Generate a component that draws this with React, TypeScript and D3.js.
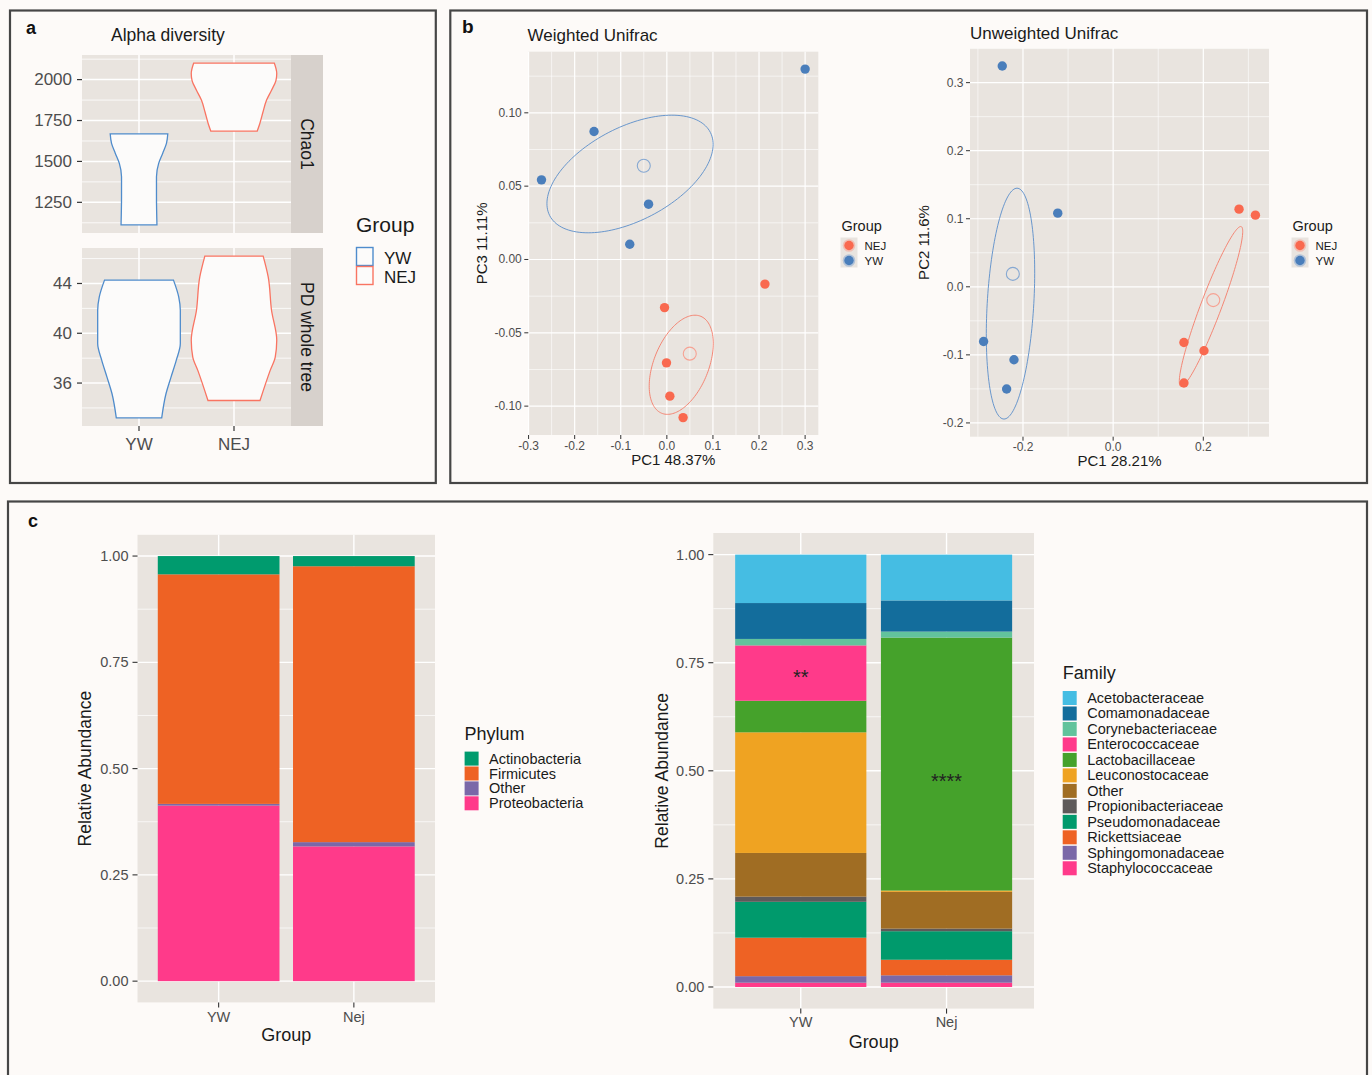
import React from 'react'
import * as d3 from 'd3'

const FONT = "'Liberation Sans', Arial, Helvetica, sans-serif"
const PAGE_BG = '#fdfaf8'
const PANEL_BG = '#e9e4df'
const STRIP_BG = '#d7d1cc'
const FRAME = '#464646'
const TICK_TEXT = '#4d4d4d'
const TICK_LINE = '#333333'
const TEXT = '#1a1a1a'

// ---------- a: alpha diversity ----------
const alphaGroups = ['YW', 'NEJ']
const chao1Ticks = [1250, 1500, 1750, 2000]
const pdTicks = [36, 40, 44]
// violin outlines: [value, half width as a share of the category step]
const chao1YW = [[1668, 0.303], [1610, 0.289], [1549, 0.249], [1488, 0.207], [1406, 0.184], [1284, 0.184], [1112, 0.189]]
const chao1NEJ = [[2101, 0.424], [2037, 0.45], [1996, 0.442], [1935, 0.395], [1874, 0.342], [1802, 0.305], [1732, 0.272], [1685, 0.244]]
const pdYW = [[44.27, 0.363], [42.92, 0.418], [41.85, 0.435], [39.17, 0.435], [37.82, 0.392], [36.48, 0.337], [35.14, 0.284], [33.2, 0.239]]
const pdNEJ = [[46.2, 0.307], [44.53, 0.36], [41.85, 0.395], [39.43, 0.45], [38.09, 0.434], [37.02, 0.381], [34.6, 0.274]]

// ---------- b: PCoA ----------
const pcoaGroups = ['NEJ', 'YW']
const weightedYW = [[0.3, 0.1298], [-0.158, 0.0873], [-0.272, 0.0543], [-0.0397, 0.0377], [-0.0805, 0.0104]]
const weightedNEJ = [[0.2128, -0.0168], [-0.005, -0.0328], [-0.0008, -0.0705], [0.0065, -0.0932], [0.0352, -0.1078]]
const unweightedYW = [[-0.246, 0.3245], [-0.1229, 0.1082], [-0.2874, -0.0803], [-0.22, -0.1072], [-0.2363, -0.1502]]
const unweightedNEJ = [[0.2793, 0.1141], [0.3156, 0.1053], [0.157, -0.0818], [0.2015, -0.094], [0.157, -0.1414]]
// ellipses: [cx, cy, ax, ay, bx, by]  (centre + two conjugate semi-axes)
const weightedEllYW = [-0.0799, 0.0583, 0.0907, 0.0401, 0.1558, 0]
const weightedEllNEJ = [0.0312, -0.0718, 0.0299, 0.0338, 0.0627, 0]
const unweightedEllYW = [-0.2277, -0.0247, 0.01444, 0.1696, 0.0517, 0]
const unweightedEllNEJ = [0.2171, -0.0289, 0.0659, 0.1175, 0.0246, 0]
const weightedXTicks = [-0.3, -0.2, -0.1, 0, 0.1, 0.2, 0.3]
const weightedYTicks = [-0.1, -0.05, 0, 0.05, 0.1]
const unweightedXTicks = [-0.2, 0, 0.2]
const unweightedYTicks = [-0.2, -0.1, 0, 0.1, 0.2, 0.3]

// ---------- c: relative abundance ----------
const barGroups = ['YW', 'Nej']
const abundanceTicks = [0, 0.25, 0.5, 0.75, 1]
const phyla = ['Actinobacteria', 'Firmicutes', 'Other', 'Proteobacteria']
const phylumYW = [0.043, 0.54, 0.004, 0.413]
const phylumNej = [0.024, 0.649, 0.01, 0.317]
const phylumColors = ['#009b6e', '#ee6224', '#7b68a8', '#ff3a8a']
const families = [
  'Acetobacteraceae', 'Comamonadaceae', 'Corynebacteriaceae', 'Enterococcaceae',
  'Lactobacillaceae', 'Leuconostocaceae', 'Other', 'Propionibacteriaceae',
  'Pseudomonadaceae', 'Rickettsiaceae', 'Sphingomonadaceae', 'Staphylococcaceae',
]
const familyYW = [0.112, 0.083, 0.015, 0.128, 0.073, 0.279, 0.101, 0.012, 0.083, 0.089, 0.015, 0.01]
const familyNej = [0.106, 0.072, 0.014, 0.0, 0.585, 0.003, 0.085, 0.006, 0.066, 0.036, 0.017, 0.01]
const familyColors = [
  '#45bde3', '#136d9c', '#62c39c', '#ff3a8a', '#45a22b', '#efa322',
  '#a06d23', '#5e5a5a', '#009a6c', '#ee6224', '#7b68a8', '#ff3a8a',
]
const familyStars = [['YW', 0.727, '**'], ['Nej', 0.487, '****']]

const groupColors: Record<string, string> = { YW: '#4a7ebb', NEJ: '#f9694f' }
const ringColors: Record<string, string> = { YW: '#86a8d2', NEJ: '#f6a293' }
const ellColors: Record<string, string> = { YW: '#5a8dca', NEJ: '#f47c69' }
const violinColors: Record<string, string> = { YW: '#4f8ccc', NEJ: '#f97462' }

const fmtMinus = (f: (n: number) => string) => (v: number) => f(v).replace('\u2212', '-')

function expand(ext: number[], m = 0.05) {
  const r = ext[1] - ext[0]
  return [ext[0] - r * m, ext[1] + r * m]
}

function minorOf(ticks: number[], domain: number[]) {
  const step = ticks[1] - ticks[0]
  const out: number[] = []
  for (let i = -1; i < ticks.length; i++) {
    const v = ticks[0] + (i + 0.5) * step
    if (v >= domain[0] && v <= domain[1]) out.push(v)
  }
  return out
}

function AlphaPanel() {
  const x = d3.scalePoint<string>().domain(alphaGroups).range([82, 291]).padding(0.6)
  const step = x.step()
  const facets = [
    { name: 'Chao1', top: 55, bottom: 233, ticks: chao1Ticks, data: { YW: chao1YW, NEJ: chao1NEJ } },
    { name: 'PD whole tree', top: 248, bottom: 426, ticks: pdTicks, data: { YW: pdYW, NEJ: pdNEJ } },
  ]
  return (
    <g>
      <text x={26} y={34} fontSize={18} fontWeight="bold" fill="#111">a</text>
      <text x={111} y={41} fontSize={17.5} fill={TEXT}>Alpha diversity</text>
      {facets.map((f) => {
        const vals = [...f.data.YW, ...f.data.NEJ].map((d) => d[0])
        const dom = expand(d3.extent(vals) as number[])
        const y = d3.scaleLinear().domain(dom).range([f.bottom, f.top])
        const minor = minorOf(f.ticks, dom)
        return (
          <g key={f.name}>
            <rect x={82} y={f.top} width={209} height={f.bottom - f.top} fill={PANEL_BG} />
            {minor.map((v) => (
              <line key={'m' + v} x1={82} x2={291} y1={y(v)} y2={y(v)} stroke="#fff" strokeWidth={0.8} />
            ))}
            {f.ticks.map((v) => (
              <line key={'M' + v} x1={82} x2={291} y1={y(v)} y2={y(v)} stroke="#fff" strokeWidth={1.5} />
            ))}
            {alphaGroups.map((g) => (
              <line key={g} x1={x(g)} x2={x(g)} y1={f.top} y2={f.bottom} stroke="#fff" strokeWidth={1.5} />
            ))}
            {alphaGroups.map((g) => {
              const cx = x(g) as number
              const area = d3
                .area<number[]>()
                .y((d) => y(d[0]))
                .x0((d) => cx - d[1] * step)
                .x1((d) => cx + d[1] * step)
                .curve(d3.curveMonotoneY)
              return (
                <path
                  key={g}
                  d={area((f.data as any)[g]) || ''}
                  fill="#fcfbfa"
                  stroke={violinColors[g]}
                  strokeWidth={1.3}
                />
              )
            })}
            {f.ticks.map((v) => (
              <g key={'t' + v}>
                <line x1={77} x2={82} y1={y(v)} y2={y(v)} stroke={TICK_LINE} strokeWidth={1.2} />
                <text x={72} y={y(v)} dominantBaseline="central" textAnchor="end" fontSize={17} fill={TICK_TEXT}>
                  {v}
                </text>
              </g>
            ))}
            <rect x={291} y={f.top} width={32} height={f.bottom - f.top} fill={STRIP_BG} />
            <text
              transform={`translate(301,${(f.top + f.bottom) / 2}) rotate(90)`}
              textAnchor="middle"
              fontSize={17.5}
              fill={TEXT}
            >
              {f.name}
            </text>
          </g>
        )
      })}
      {alphaGroups.map((g) => (
        <g key={g}>
          <line x1={x(g)} x2={x(g)} y1={426} y2={431} stroke={TICK_LINE} strokeWidth={1.2} />
          <text x={x(g)} y={450} textAnchor="middle" fontSize={17} fill={TICK_TEXT}>{g}</text>
        </g>
      ))}
      <text x={356} y={232} fontSize={21} fill={TEXT}>Group</text>
      {alphaGroups.map((g, i) => (
        <g key={g}>
          <rect x={356.5} y={247.5 + i * 19} width={16.5} height={18} fill="#fcfbfa" stroke={violinColors[g]} strokeWidth={1.4} />
          <text x={384} y={263.5 + i * 19.3} fontSize={17} fill={TEXT}>{g}</text>
        </g>
      ))}
    </g>
  )
}

function ellipsePoints(e: number[]) {
  return d3.range(0, 145).map((i) => {
    const t = (i / 144) * 2 * Math.PI
    return [e[0] + e[2] * Math.cos(t) + e[4] * Math.sin(t), e[1] + e[3] * Math.cos(t) + e[5] * Math.sin(t)]
  })
}

function Pcoa(props: any) {
  const { title, titleX, titleY, xLab, yLab, box, yw, nej, ellYW, ellNEJ, xTicks, yTicks, xFmt, yFmt, legendX } = props
  const eY = ellipsePoints(ellYW)
  const eN = ellipsePoints(ellNEJ)
  const all = [...yw, ...nej, ...eY, ...eN]
  const xDom = expand(d3.extent(all, (d: number[]) => d[0]) as number[])
  const yDom = expand(d3.extent(all, (d: number[]) => d[1]) as number[])
  const x = d3.scaleLinear().domain(xDom).range([box.l, box.r])
  const y = d3.scaleLinear().domain(yDom).range([box.b, box.t])
  const line = d3.line<number[]>().x((d) => x(d[0])).y((d) => y(d[1])).curve(d3.curveLinearClosed)
  const groups: Record<string, number[][]> = { YW: yw, NEJ: nej }
  const ells: Record<string, number[][]> = { YW: eY, NEJ: eN }
  const xMinor = minorOf(xTicks, xDom)
  const yMinor = minorOf(yTicks, yDom)
  const fx = fmtMinus(xFmt)
  const fy = fmtMinus(yFmt)
  return (
    <g>
      <text x={titleX} y={titleY} fontSize={17} fill={TEXT}>{title}</text>
      <rect x={box.l} y={box.t} width={box.r - box.l} height={box.b - box.t} fill={PANEL_BG} />
      {xMinor.map((v: number) => (
        <line key={'xm' + v} x1={x(v)} x2={x(v)} y1={box.t} y2={box.b} stroke="#fff" strokeWidth={0.6} />
      ))}
      {yMinor.map((v: number) => (
        <line key={'ym' + v} x1={box.l} x2={box.r} y1={y(v)} y2={y(v)} stroke="#fff" strokeWidth={0.6} />
      ))}
      {xTicks.map((v: number) => (
        <line key={'xM' + v} x1={x(v)} x2={x(v)} y1={box.t} y2={box.b} stroke="#fff" strokeWidth={1.2} />
      ))}
      {yTicks.map((v: number) => (
        <line key={'yM' + v} x1={box.l} x2={box.r} y1={y(v)} y2={y(v)} stroke="#fff" strokeWidth={1.2} />
      ))}
      {['YW', 'NEJ'].map((g) => (
        <path key={'e' + g} d={line(ells[g]) || ''} fill="none" stroke={ellColors[g]} strokeWidth={0.9} />
      ))}
      {['YW', 'NEJ'].map((g) => (
        <g key={'p' + g}>
          {groups[g].map((d, i) => (
            <circle key={i} cx={x(d[0])} cy={y(d[1])} r={4.7} fill={groupColors[g]} />
          ))}
          <circle
            cx={x(d3.mean(groups[g], (d) => d[0]) as number)}
            cy={y(d3.mean(groups[g], (d) => d[1]) as number)}
            r={6.5}
            fill="none"
            stroke={ringColors[g]}
            strokeWidth={1.1}
          />
        </g>
      ))}
      {xTicks.map((v: number) => (
        <g key={'xt' + v}>
          <line x1={x(v)} x2={x(v)} y1={box.b} y2={box.b + 4} stroke={TICK_LINE} strokeWidth={1} />
          <text x={x(v)} y={box.b + 14.5} textAnchor="middle" fontSize={12} fill={TICK_TEXT}>{fx(v)}</text>
        </g>
      ))}
      {yTicks.map((v: number) => (
        <g key={'yt' + v}>
          <line x1={box.l - 4} x2={box.l} y1={y(v)} y2={y(v)} stroke={TICK_LINE} strokeWidth={1} />
          <text x={box.l - 6.5} y={y(v)} dominantBaseline="central" textAnchor="end" fontSize={12} fill={TICK_TEXT}>
            {fy(v)}
          </text>
        </g>
      ))}
      <text x={(box.l + box.r) / 2} y={box.b + 29.5} textAnchor="middle" fontSize={15} fill={TEXT}>{xLab}</text>
      <text
        transform={`translate(${box.l - 41.5},${(box.t + box.b) / 2}) rotate(-90)`}
        textAnchor="middle"
        fontSize={15}
        fill={TEXT}
      >
        {yLab}
      </text>
      <text x={legendX - 7.5} y={231} fontSize={14.5} fill={TEXT}>Group</text>
      <rect x={legendX - 8.5} y={237.5} width={17} height={30} fill={PANEL_BG} />
      {pcoaGroups.map((g, i) => (
        <g key={'l' + g}>
          <circle cx={legendX} cy={245.5 + i * 15} r={6.3} fill={ringColors[g]} opacity={0.55} />
          <circle cx={legendX} cy={245.5 + i * 15} r={4.7} fill={groupColors[g]} />
          <text x={legendX + 15.5} y={245.5 + i * 15} dominantBaseline="central" fontSize={11.5} fill={TEXT}>{g}</text>
        </g>
      ))}
    </g>
  )
}

function StackedBars(props: any) {
  const { box, keys, colors, valuesYW, valuesNej, legendTitle, legend, yLabX, xLabY, titleY, stars } = props
  const x = d3.scaleBand<string>().domain(barGroups).range([box.l, box.r]).paddingInner(0.1).paddingOuter(0.15)
  const y = d3.scaleLinear().domain([-0.05, 1.05]).range([box.b, box.t])
  const rows = [valuesYW, valuesNej].map((vals: number[], gi: number) => {
    const r: any = { group: barGroups[gi] }
    keys.forEach((k: string, i: number) => (r[k] = vals[i]))
    return r
  })
  // first key sits on top, as in the original stacking
  const stack = d3.stack<any>().keys([...keys].reverse())(rows)
  const color = d3.scaleOrdinal<string, string>().domain(keys).range(colors)
  const minor = minorOf(abundanceTicks, [-0.05, 1.05])
  const fy = d3.format('.2f')
  return (
    <g>
      <rect x={box.l} y={box.t} width={box.r - box.l} height={box.b - box.t} fill={PANEL_BG} />
      {minor.map((v) => (
        <line key={'m' + v} x1={box.l} x2={box.r} y1={y(v)} y2={y(v)} stroke="#fff" strokeWidth={0.7} />
      ))}
      {abundanceTicks.map((v) => (
        <line key={'M' + v} x1={box.l} x2={box.r} y1={y(v)} y2={y(v)} stroke="#fff" strokeWidth={1.4} />
      ))}
      {barGroups.map((g) => {
        const cx = (x(g) as number) + x.bandwidth() / 2
        return <line key={g} x1={cx} x2={cx} y1={box.t} y2={box.b} stroke="#fff" strokeWidth={1.4} />
      })}
      {stack.map((layer) => (
        <g key={layer.key} fill={color(layer.key)}>
          {layer.map((d, i) => (
            <rect
              key={i}
              x={x(d.data.group)}
              width={x.bandwidth()}
              y={y(d[1])}
              height={Math.max(0, y(d[0]) - y(d[1]))}
            />
          ))}
        </g>
      ))}
      {stars &&
        stars.map((s: any[]) => (
          <text
            key={s[0]}
            x={(x(s[0]) as number) + x.bandwidth() / 2}
            y={y(s[1]) + 11.5}
            textAnchor="middle"
            fontSize={20}
            fill="#222"
          >
            {s[2]}
          </text>
        ))}
      {abundanceTicks.map((v) => (
        <g key={'t' + v}>
          <line x1={box.l - 5} x2={box.l} y1={y(v)} y2={y(v)} stroke={TICK_LINE} strokeWidth={1.1} />
          <text x={box.l - 9} y={y(v)} dominantBaseline="central" textAnchor="end" fontSize={14.5} fill={TICK_TEXT}>
            {fy(v)}
          </text>
        </g>
      ))}
      {barGroups.map((g) => {
        const cx = (x(g) as number) + x.bandwidth() / 2
        return (
          <g key={'x' + g}>
            <line x1={cx} x2={cx} y1={box.b} y2={box.b + 5} stroke={TICK_LINE} strokeWidth={1.1} />
            <text x={cx} y={xLabY} textAnchor="middle" fontSize={14.5} fill={TICK_TEXT}>{g}</text>
          </g>
        )
      })}
      <text x={(box.l + box.r) / 2} y={titleY} textAnchor="middle" fontSize={18} fill={TEXT}>Group</text>
      <text
        transform={`translate(${yLabX},${(box.t + box.b) / 2}) rotate(-90)`}
        textAnchor="middle"
        fontSize={17.5}
        fill={TEXT}
      >
        Relative Abundance
      </text>
      <text x={legend.x} y={legend.titleY} fontSize={18} fill={TEXT}>{legendTitle}</text>
      {keys.map((k: string, i: number) => {
        const cy = legend.row0 + i * legend.step
        return (
          <g key={'lg' + k}>
            <rect x={legend.x} y={cy - 7} width={14} height={14} fill={color(k)} />
            <text x={legend.x + 24.5} y={cy} dominantBaseline="central" fontSize={14.5} fill={TEXT}>{k}</text>
          </g>
        )
      })}
    </g>
  )
}

export default function App() {
  const W = 1372
  const H = 1075
  return (
    <svg
      width={W}
      height={H}
      style={{ position: 'absolute', left: 0, top: 0, display: 'block' }}
      fontFamily={FONT}
    >
      <rect width={W} height={H} fill={PAGE_BG} />
      <rect x={10} y={10.5} width={425.8} height={472.5} fill="none" stroke={FRAME} strokeWidth={2.2} />
      <rect x={450.3} y={10.5} width={916.7} height={472.5} fill="none" stroke={FRAME} strokeWidth={2.2} />
      <rect x={8} y={501.5} width={1359} height={640} fill="none" stroke={FRAME} strokeWidth={2.2} />

      <AlphaPanel />

      <text x={462} y={32.5} fontSize={19} fontWeight="bold" fill="#111">b</text>
      <Pcoa
        title="Weighted Unifrac"
        titleX={527.5}
        titleY={41}
        xLab="PC1 48.37%"
        yLab="PC3 11.11%"
        box={{ l: 528.3, r: 818.3, t: 51.7, b: 435 }}
        yw={weightedYW}
        nej={weightedNEJ}
        ellYW={weightedEllYW}
        ellNEJ={weightedEllNEJ}
        xTicks={weightedXTicks}
        yTicks={weightedYTicks}
        xFmt={d3.format('.1f')}
        yFmt={d3.format('.2f')}
        legendX={849}
      />
      <Pcoa
        title="Unweighted Unifrac"
        titleX={970}
        titleY={38.5}
        xLab="PC1 28.21%"
        yLab="PC2 11.6%"
        box={{ l: 970, r: 1269, t: 48.3, b: 436.7 }}
        yw={unweightedYW}
        nej={unweightedNEJ}
        ellYW={unweightedEllYW}
        ellNEJ={unweightedEllNEJ}
        xTicks={unweightedXTicks}
        yTicks={unweightedYTicks}
        xFmt={d3.format('.1f')}
        yFmt={d3.format('.1f')}
        legendX={1300}
      />

      <text x={28} y={527} fontSize={18} fontWeight="bold" fill="#111">c</text>
      <StackedBars
        box={{ l: 137.5, r: 435, t: 534.8, b: 1002.4 }}
        keys={phyla}
        colors={phylumColors}
        valuesYW={phylumYW}
        valuesNej={phylumNej}
        legendTitle="Phylum"
        legend={{ x: 464.6, titleY: 740, row0: 758.6, step: 14.9 }}
        yLabX={91.4}
        xLabY={1021.5}
        titleY={1041}
      />
      <StackedBars
        box={{ l: 713.3, r: 1034, t: 533, b: 1008.6 }}
        keys={families}
        colors={familyColors}
        valuesYW={familyYW}
        valuesNej={familyNej}
        legendTitle="Family"
        legend={{ x: 1062.7, titleY: 679.3, row0: 698, step: 15.48 }}
        yLabX={668.3}
        xLabY={1027.3}
        titleY={1047.5}
        stars={familyStars}
      />
    </svg>
  )
}
